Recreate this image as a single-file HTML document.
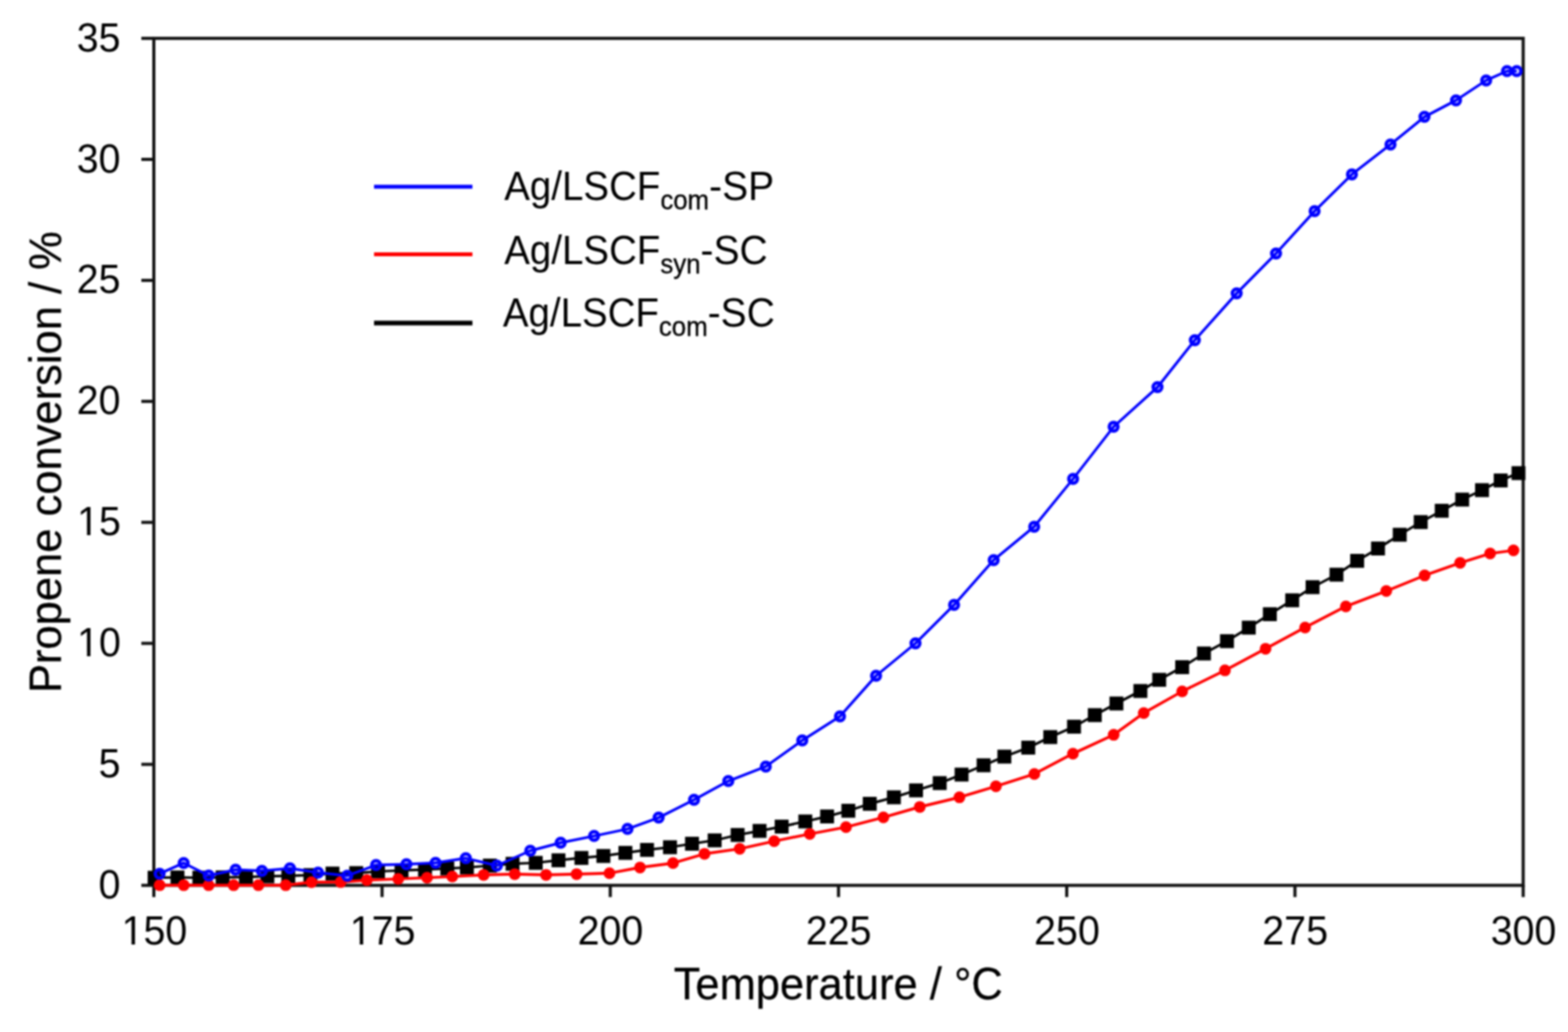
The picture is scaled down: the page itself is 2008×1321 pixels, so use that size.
<!DOCTYPE html>
<html lang="en"><head><meta charset="utf-8"><title>Propene conversion vs temperature</title>
<style>
html,body{margin:0;padding:0;background:#fff;}
body{width:2008px;height:1321px;overflow:hidden;}
svg{display:block;}
text{font-family:"Liberation Sans",Arial,Helvetica,sans-serif;fill:#000;stroke:none;}
.tick{font-size:50.4px;}
.axl{font-size:55.7px;}
.leg{font-size:49.3px;}
.tail{font-size:50px;}
.axl{stroke:#000;stroke-width:0.3px;}
.sub{font-size:33px;stroke:#000;stroke-width:0.4px;}
</style></head><body>
<svg width="2008" height="1321" viewBox="0 0 2008 1321">
<defs><filter id="soft" x="0" y="0" width="2008" height="1321" filterUnits="userSpaceOnUse" color-interpolation-filters="sRGB"><feGaussianBlur stdDeviation="0.8"/></filter></defs>
<rect x="0" y="0" width="2008" height="1321" fill="#fff"/>
<g filter="url(#soft)">
<rect x="0" y="0" width="2008" height="1321" fill="#fff"/>
<g stroke="#111" stroke-width="4" fill="none" stroke-linecap="butt">
<rect x="197" y="49.1" width="1753.6" height="1084.2"/>
<line x1="181" y1="1133.3" x2="197" y2="1133.3"/>
<line x1="181" y1="978.414" x2="197" y2="978.414"/>
<line x1="181" y1="823.529" x2="197" y2="823.529"/>
<line x1="181" y1="668.643" x2="197" y2="668.643"/>
<line x1="181" y1="513.757" x2="197" y2="513.757"/>
<line x1="181" y1="358.871" x2="197" y2="358.871"/>
<line x1="181" y1="203.986" x2="197" y2="203.986"/>
<line x1="181" y1="49.1" x2="197" y2="49.1"/>
<line x1="197" y1="1133.3" x2="197" y2="1148.3"/>
<line x1="489.267" y1="1133.3" x2="489.267" y2="1148.3"/>
<line x1="781.533" y1="1133.3" x2="781.533" y2="1148.3"/>
<line x1="1073.8" y1="1133.3" x2="1073.8" y2="1148.3"/>
<line x1="1366.07" y1="1133.3" x2="1366.07" y2="1148.3"/>
<line x1="1658.33" y1="1133.3" x2="1658.33" y2="1148.3"/>
<line x1="1950.6" y1="1133.3" x2="1950.6" y2="1148.3"/>
</g>
<g class="tick" text-anchor="end">
<text transform="translate(154.2 1149.9) scale(1 1.035)">0</text>
<text transform="translate(154.2 995.014) scale(1 1.035)">5</text>
<text transform="translate(154.7 840.129) scale(1 1.035)">10</text>
<text transform="translate(154.7 685.243) scale(1 1.035)">15</text>
<text transform="translate(154.2 530.357) scale(1 1.035)">20</text>
<text transform="translate(154.2 375.471) scale(1 1.035)">25</text>
<text transform="translate(154.2 220.586) scale(1 1.035)">30</text>
<text transform="translate(154.2 65.7) scale(1 1.035)">35</text>
</g>
<g class="tick" text-anchor="middle">
<text transform="translate(197.8 1209.3) scale(1 1.035)">150</text>
<text transform="translate(490.067 1209.3) scale(1 1.035)">175</text>
<text transform="translate(781.833 1209.3) scale(1 1.035)">200</text>
<text transform="translate(1074.1 1209.3) scale(1 1.035)">225</text>
<text transform="translate(1366.37 1209.3) scale(1 1.035)">250</text>
<text transform="translate(1658.63 1209.3) scale(1 1.035)">275</text>
<text transform="translate(1950.9 1209.3) scale(1 1.035)">300</text>
</g>
<g fill="#fff">
<rect x="100.5" y="835.4" width="10.93" height="5.4"/>
<rect x="115.85" y="835.4" width="10.65" height="5.4"/>
<rect x="100.5" y="680.4" width="10.93" height="5.4"/>
<rect x="115.85" y="680.4" width="10.65" height="5.4"/>
<rect x="157.5" y="1204.4" width="10.93" height="5.4"/>
<rect x="172.85" y="1204.4" width="10.65" height="5.4"/>
<rect x="449.5" y="1204.4" width="11.17" height="5.4"/>
<rect x="465.12" y="1204.4" width="10.38" height="5.4"/>
</g>
<text class="axl" text-anchor="middle" transform="translate(1073.4 1278.8) scale(1 1.04)">Temperature / °C</text>
<text class="axl" text-anchor="middle" transform="translate(78 591.5) rotate(-90) scale(1 1.04)">Propene conversion / %</text>
<g>
<polyline points="198,1123.5 227.3,1123.2 255.3,1123.5 285.1,1123.1 315,1122.7 342.4,1121.7 369.2,1121.2 397.5,1120.2 425.8,1118.2 456.2,1117.6 484.1,1115.5 514.2,1114.2 544.3,1113.2 572.8,1111.7 597.9,1110.5 627.3,1108 656.4,1105.7 686.1,1104.5 715.2,1101.2 744.6,1098.2 772.7,1095.7 800.9,1091.7 828.6,1087.9 858,1084.5 886.2,1080 915.2,1075.7 944.6,1068.8 972.7,1063.6 1001,1058.1 1031.3,1051.5 1059.2,1045.1 1086.4,1037.8 1113.8,1028.9 1144.7,1020.6 1173.1,1011.7 1203.4,1002.4 1231.4,991.5 1259.6,979.6 1286.2,968.5 1316.8,957 1345,943.5 1375.4,930.2 1402,915.4 1429.7,900.5 1460.4,884.5 1484.5,870.2 1513.9,854 1541.8,836.5 1571.3,820.7 1599.2,803.4 1626.2,786.2 1654.8,768.4 1680.9,751.6 1711.5,735.6 1738,717.9 1764.7,702.1 1792.5,684.5 1819.4,668.3 1846.3,653.8 1872.5,639.5 1897.9,627.4 1921.8,615 1944.6,605.6" fill="none" stroke="#000" stroke-width="3.2" stroke-linejoin="round"/>
<g fill="#000">
<rect x="189.1" y="1114.6" width="17.8" height="17.8"/>
<rect x="218.4" y="1114.3" width="17.8" height="17.8"/>
<rect x="246.4" y="1114.6" width="17.8" height="17.8"/>
<rect x="276.2" y="1114.2" width="17.8" height="17.8"/>
<rect x="306.1" y="1113.8" width="17.8" height="17.8"/>
<rect x="333.5" y="1112.8" width="17.8" height="17.8"/>
<rect x="360.3" y="1112.3" width="17.8" height="17.8"/>
<rect x="388.6" y="1111.3" width="17.8" height="17.8"/>
<rect x="416.9" y="1109.3" width="17.8" height="17.8"/>
<rect x="447.3" y="1108.7" width="17.8" height="17.8"/>
<rect x="475.2" y="1106.6" width="17.8" height="17.8"/>
<rect x="505.3" y="1105.3" width="17.8" height="17.8"/>
<rect x="535.4" y="1104.3" width="17.8" height="17.8"/>
<rect x="563.9" y="1102.8" width="17.8" height="17.8"/>
<rect x="589" y="1101.6" width="17.8" height="17.8"/>
<rect x="618.4" y="1099.1" width="17.8" height="17.8"/>
<rect x="647.5" y="1096.8" width="17.8" height="17.8"/>
<rect x="677.2" y="1095.6" width="17.8" height="17.8"/>
<rect x="706.3" y="1092.3" width="17.8" height="17.8"/>
<rect x="735.7" y="1089.3" width="17.8" height="17.8"/>
<rect x="763.8" y="1086.8" width="17.8" height="17.8"/>
<rect x="792" y="1082.8" width="17.8" height="17.8"/>
<rect x="819.7" y="1079" width="17.8" height="17.8"/>
<rect x="849.1" y="1075.6" width="17.8" height="17.8"/>
<rect x="877.3" y="1071.1" width="17.8" height="17.8"/>
<rect x="906.3" y="1066.8" width="17.8" height="17.8"/>
<rect x="935.7" y="1059.9" width="17.8" height="17.8"/>
<rect x="963.8" y="1054.7" width="17.8" height="17.8"/>
<rect x="992.1" y="1049.2" width="17.8" height="17.8"/>
<rect x="1022.4" y="1042.6" width="17.8" height="17.8"/>
<rect x="1050.3" y="1036.2" width="17.8" height="17.8"/>
<rect x="1077.5" y="1028.9" width="17.8" height="17.8"/>
<rect x="1104.9" y="1020" width="17.8" height="17.8"/>
<rect x="1135.8" y="1011.7" width="17.8" height="17.8"/>
<rect x="1164.2" y="1002.8" width="17.8" height="17.8"/>
<rect x="1194.5" y="993.5" width="17.8" height="17.8"/>
<rect x="1222.5" y="982.6" width="17.8" height="17.8"/>
<rect x="1250.7" y="970.7" width="17.8" height="17.8"/>
<rect x="1277.3" y="959.6" width="17.8" height="17.8"/>
<rect x="1307.9" y="948.1" width="17.8" height="17.8"/>
<rect x="1336.1" y="934.6" width="17.8" height="17.8"/>
<rect x="1366.5" y="921.3" width="17.8" height="17.8"/>
<rect x="1393.1" y="906.5" width="17.8" height="17.8"/>
<rect x="1420.8" y="891.6" width="17.8" height="17.8"/>
<rect x="1451.5" y="875.6" width="17.8" height="17.8"/>
<rect x="1475.6" y="861.3" width="17.8" height="17.8"/>
<rect x="1505" y="845.1" width="17.8" height="17.8"/>
<rect x="1532.9" y="827.6" width="17.8" height="17.8"/>
<rect x="1562.4" y="811.8" width="17.8" height="17.8"/>
<rect x="1590.3" y="794.5" width="17.8" height="17.8"/>
<rect x="1617.3" y="777.3" width="17.8" height="17.8"/>
<rect x="1645.9" y="759.5" width="17.8" height="17.8"/>
<rect x="1672" y="742.7" width="17.8" height="17.8"/>
<rect x="1702.6" y="726.7" width="17.8" height="17.8"/>
<rect x="1729.1" y="709" width="17.8" height="17.8"/>
<rect x="1755.8" y="693.2" width="17.8" height="17.8"/>
<rect x="1783.6" y="675.6" width="17.8" height="17.8"/>
<rect x="1810.5" y="659.4" width="17.8" height="17.8"/>
<rect x="1837.4" y="644.9" width="17.8" height="17.8"/>
<rect x="1863.6" y="630.6" width="17.8" height="17.8"/>
<rect x="1889" y="618.5" width="17.8" height="17.8"/>
<rect x="1912.9" y="606.1" width="17.8" height="17.8"/>
<rect x="1935.7" y="596.7" width="17.8" height="17.8"/>
</g></g>
<g>
<polyline points="204.4,1133.1 235.3,1133.1 267.2,1133.1 299.2,1133.1 330.9,1133.1 365.9,1133.1 398.9,1129.2 436.3,1129.1 469.8,1126.6 510,1125 546.9,1123.5 579.2,1122 619.4,1119.9 659.2,1118.9 699.3,1119.9 738.4,1118.9 780.5,1117.7 819.6,1110.4 861.9,1104.8 902.2,1092.9 947.3,1086.5 991.4,1076.7 1037,1067.5 1083.4,1058.7 1131.3,1046.3 1177.9,1032.9 1228.7,1020.6 1275.4,1006.5 1324.6,990.7 1374,964.7 1426.2,940.6 1464.7,912.7 1513.9,885 1568.7,858.1 1620.7,830.4 1671.3,803.2 1723.5,776.2 1775.3,756.5 1824.4,736.6 1869.9,720.5 1908.3,708.5 1938.2,704.5" fill="none" stroke="#f00" stroke-width="3.7" stroke-linejoin="round"/>
<g fill="#f00">
<circle cx="204.4" cy="1133.1" r="7.5"/>
<circle cx="235.3" cy="1133.1" r="7.5"/>
<circle cx="267.2" cy="1133.1" r="7.5"/>
<circle cx="299.2" cy="1133.1" r="7.5"/>
<circle cx="330.9" cy="1133.1" r="7.5"/>
<circle cx="365.9" cy="1133.1" r="7.5"/>
<circle cx="398.9" cy="1129.2" r="7.5"/>
<circle cx="436.3" cy="1129.1" r="7.5"/>
<circle cx="469.8" cy="1126.6" r="7.5"/>
<circle cx="510" cy="1125" r="7.5"/>
<circle cx="546.9" cy="1123.5" r="7.5"/>
<circle cx="579.2" cy="1122" r="7.5"/>
<circle cx="619.4" cy="1119.9" r="7.5"/>
<circle cx="659.2" cy="1118.9" r="7.5"/>
<circle cx="699.3" cy="1119.9" r="7.5"/>
<circle cx="738.4" cy="1118.9" r="7.5"/>
<circle cx="780.5" cy="1117.7" r="7.5"/>
<circle cx="819.6" cy="1110.4" r="7.5"/>
<circle cx="861.9" cy="1104.8" r="7.5"/>
<circle cx="902.2" cy="1092.9" r="7.5"/>
<circle cx="947.3" cy="1086.5" r="7.5"/>
<circle cx="991.4" cy="1076.7" r="7.5"/>
<circle cx="1037" cy="1067.5" r="7.5"/>
<circle cx="1083.4" cy="1058.7" r="7.5"/>
<circle cx="1131.3" cy="1046.3" r="7.5"/>
<circle cx="1177.9" cy="1032.9" r="7.5"/>
<circle cx="1228.7" cy="1020.6" r="7.5"/>
<circle cx="1275.4" cy="1006.5" r="7.5"/>
<circle cx="1324.6" cy="990.7" r="7.5"/>
<circle cx="1374" cy="964.7" r="7.5"/>
<circle cx="1426.2" cy="940.6" r="7.5"/>
<circle cx="1464.7" cy="912.7" r="7.5"/>
<circle cx="1513.9" cy="885" r="7.5"/>
<circle cx="1568.7" cy="858.1" r="7.5"/>
<circle cx="1620.7" cy="830.4" r="7.5"/>
<circle cx="1671.3" cy="803.2" r="7.5"/>
<circle cx="1723.5" cy="776.2" r="7.5"/>
<circle cx="1775.3" cy="756.5" r="7.5"/>
<circle cx="1824.4" cy="736.6" r="7.5"/>
<circle cx="1869.9" cy="720.5" r="7.5"/>
<circle cx="1908.3" cy="708.5" r="7.5"/>
<circle cx="1938.2" cy="704.5" r="7.5"/>
</g></g>
<g>
<polyline points="204.4,1118.4 235.2,1104.7 267.3,1120.8 301.7,1113.2 335.4,1114.8 371.3,1111.6 407.3,1117.1 444.7,1120.9 481.6,1107.3 520.5,1106.3 557.8,1104.4 596.5,1098.6 636.3,1108 679.1,1089 718,1078.8 760.8,1070.1 803.6,1061.1 843.5,1046.6 888.8,1023.7 932.7,999.8 980.7,981.2 1027.4,947.7 1075.7,916.9 1121.9,865 1172.4,823.5 1221.8,774.3 1272.5,716.9 1324.4,674.2 1374.2,613 1426.1,546.3 1482.3,495.6 1530.1,435.4 1583.7,375.5 1634.1,324.4 1683.5,270.2 1731.3,223.2 1780.7,184.9 1824.2,149.6 1864.6,128.4 1903.2,102.9 1929.9,91 1942.3,91" fill="none" stroke="#00f" stroke-width="3.5" stroke-linejoin="round"/>
<g fill="#00f" fill-opacity="0.15" stroke="#00f" stroke-width="4.5">
<circle cx="204.4" cy="1118.4" r="5.5"/>
<circle cx="235.2" cy="1104.7" r="5.5"/>
<circle cx="267.3" cy="1120.8" r="5.5"/>
<circle cx="301.7" cy="1113.2" r="5.5"/>
<circle cx="335.4" cy="1114.8" r="5.5"/>
<circle cx="371.3" cy="1111.6" r="5.5"/>
<circle cx="407.3" cy="1117.1" r="5.5"/>
<circle cx="444.7" cy="1120.9" r="5.5"/>
<circle cx="481.6" cy="1107.3" r="5.5"/>
<circle cx="520.5" cy="1106.3" r="5.5"/>
<circle cx="557.8" cy="1104.4" r="5.5"/>
<circle cx="596.5" cy="1098.6" r="5.5"/>
<circle cx="636.3" cy="1108" r="5.5"/>
<circle cx="679.1" cy="1089" r="5.5"/>
<circle cx="718" cy="1078.8" r="5.5"/>
<circle cx="760.8" cy="1070.1" r="5.5"/>
<circle cx="803.6" cy="1061.1" r="5.5"/>
<circle cx="843.5" cy="1046.6" r="5.5"/>
<circle cx="888.8" cy="1023.7" r="5.5"/>
<circle cx="932.7" cy="999.8" r="5.5"/>
<circle cx="980.7" cy="981.2" r="5.5"/>
<circle cx="1027.4" cy="947.7" r="5.5"/>
<circle cx="1075.7" cy="916.9" r="5.5"/>
<circle cx="1121.9" cy="865" r="5.5"/>
<circle cx="1172.4" cy="823.5" r="5.5"/>
<circle cx="1221.8" cy="774.3" r="5.5"/>
<circle cx="1272.5" cy="716.9" r="5.5"/>
<circle cx="1324.4" cy="674.2" r="5.5"/>
<circle cx="1374.2" cy="613" r="5.5"/>
<circle cx="1426.1" cy="546.3" r="5.5"/>
<circle cx="1482.3" cy="495.6" r="5.5"/>
<circle cx="1530.1" cy="435.4" r="5.5"/>
<circle cx="1583.7" cy="375.5" r="5.5"/>
<circle cx="1634.1" cy="324.4" r="5.5"/>
<circle cx="1683.5" cy="270.2" r="5.5"/>
<circle cx="1731.3" cy="223.2" r="5.5"/>
<circle cx="1780.7" cy="184.9" r="5.5"/>
<circle cx="1824.2" cy="149.6" r="5.5"/>
<circle cx="1864.6" cy="128.4" r="5.5"/>
<circle cx="1903.2" cy="102.9" r="5.5"/>
<circle cx="1929.9" cy="91" r="5.5"/>
<circle cx="1942.3" cy="91" r="5.5"/>
</g></g>
<g fill="none">
<line x1="479" y1="239" x2="605" y2="239" stroke="#00f" stroke-width="5"/>
<line x1="479" y1="325.5" x2="605" y2="325.5" stroke="#f00" stroke-width="5"/>
<line x1="479" y1="413.5" x2="605" y2="413.5" stroke="#000" stroke-width="6"/>
</g>
<text class="leg" transform="translate(645.7 256.2) scale(1 1.04)">Ag/LSCF<tspan class="sub" dy="11.5">com</tspan><tspan class="tail" dy="-11.5">-SP</tspan></text>
<text class="leg" transform="translate(645.7 337.8) scale(1 1.04)">Ag/LSCF<tspan class="sub" dy="11.5">syn</tspan><tspan class="tail" dy="-11.5">-SC</tspan></text>
<text class="leg" transform="translate(643.9 418.2) scale(1 1.04)">Ag/LSCF<tspan class="sub" dy="11.5">com</tspan><tspan class="tail" dy="-11.5">-SC</tspan></text>
</g>
</svg>
</body></html>
